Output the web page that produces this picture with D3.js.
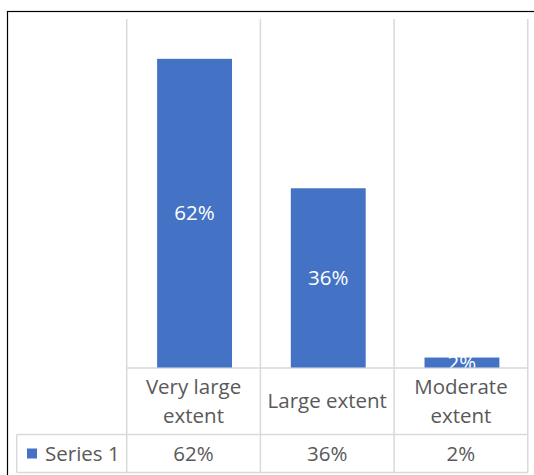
<!DOCTYPE html>
<html>
<head>
<meta charset="utf-8">
<script src="https://cdn.jsdelivr.net/npm/d3@7"></script>
<style>
  html, body { margin: 0; padding: 0; background: #fff; }
  svg { display: block; }
  text { font-family: "Open Sans", Lato, sans-serif; }
</style>
</head>
<body>
<svg id="chart" width="534" height="475"></svg>
<script>
// Chart data
const categories = ["Very large extent", "Large extent", "Moderate extent"];
const categoryLines = [["Very large", "extent"], ["Large extent"], ["Moderate", "extent"]];
const seriesName = "Series 1";
const seriesValues = [0.62, 0.36, 0.02];
const valueLabels = ["62%", "36%", "2%"];

const svg = d3.select("#chart");

const plotLeft = 126.7, plotRight = 527.8;
const plotTop = 19, baseline = 367.5;
const rowTop = 434.5, tableBottom = 472.5, tableLeft = 16.7;

const gridColor = "#d9d9d9";
const textColor = "#595959";
const barColor = "#4472c4";
const fontSize = 20.5;

// Outer chart frame
svg.append("rect")
  .attr("x", 7.5).attr("y", 11.5)
  .attr("width", 540).attr("height", 480)
  .attr("fill", "#fff").attr("stroke", "#000").attr("stroke-width", 1.2);

// Plot-area clip so in-bar labels never spill into the table
svg.append("defs").append("clipPath").attr("id", "plot-clip")
  .append("rect")
  .attr("x", plotLeft).attr("y", plotTop)
  .attr("width", plotRight - plotLeft).attr("height", baseline - plotTop);

const x = d3.scaleBand().domain(categories).range([plotLeft, plotRight]).paddingInner(0).paddingOuter(0);
const y = d3.scaleLinear().domain([0, 0.7]).range([baseline, plotTop]);

const bw = x.bandwidth();
const barW = bw * 0.56;

// Category dividers (vertical gridlines through plot and table)
const edges = categories.map(c => x(c)).concat([plotRight]);
svg.append("g").selectAll("line").data(edges).join("line")
  .attr("x1", d => d).attr("x2", d => d)
  .attr("y1", plotTop).attr("y2", tableBottom)
  .attr("stroke", gridColor).attr("stroke-width", 1.5);

// Data table horizontal rules
svg.append("line").attr("x1", plotLeft).attr("x2", plotRight)
  .attr("y1", baseline + 0.5).attr("y2", baseline + 0.5)
  .attr("stroke", gridColor).attr("stroke-width", 1.5);
[rowTop, tableBottom].forEach(yy => {
  svg.append("line").attr("x1", tableLeft).attr("x2", plotRight)
    .attr("y1", yy).attr("y2", yy)
    .attr("stroke", gridColor).attr("stroke-width", 1.5);
});
svg.append("line").attr("x1", tableLeft).attr("x2", tableLeft)
  .attr("y1", rowTop).attr("y2", tableBottom)
  .attr("stroke", gridColor).attr("stroke-width", 1.5);

// Bars
svg.append("g").selectAll("rect").data(seriesValues).join("rect")
  .attr("x", (d, i) => x(categories[i]) + (bw - barW) / 2 + 1)
  .attr("width", barW)
  .attr("y", d => y(d))
  .attr("height", d => baseline - y(d))
  .attr("fill", barColor);

// Value labels centred inside bars
svg.append("g").attr("clip-path", "url(#plot-clip)")
  .selectAll("text").data(seriesValues).join("text")
  .attr("x", (d, i) => x(categories[i]) + bw / 2 + 1)
  .attr("y", d => (y(d) + baseline) / 2)
  .attr("dy", "0.35em")
  .attr("text-anchor", "middle")
  .attr("fill", "#fff")
  .attr("font-size", fontSize)
  .text((d, i) => valueLabels[i]);

// Category labels in the table header row
const catRowMid = (baseline + rowTop) / 2;
const lineGap = 29;
categoryLines.forEach((lines, i) => {
  const cx = x(categories[i]) + bw / 2;
  lines.forEach((ln, j) => {
    svg.append("text")
      .attr("x", cx)
      .attr("y", catRowMid + (j - (lines.length - 1) / 2) * lineGap)
      .attr("dy", "0.35em")
      .attr("text-anchor", "middle")
      .attr("fill", textColor)
      .attr("font-size", fontSize)
      .text(ln);
  });
});

// Series row: legend key + values
const valRowMid = (rowTop + tableBottom) / 2;
svg.append("rect")
  .attr("x", 27).attr("y", valRowMid - 5).attr("width", 10).attr("height", 10)
  .attr("fill", barColor);
svg.append("text")
  .attr("x", 45).attr("y", valRowMid).attr("dy", "0.35em")
  .attr("fill", textColor).attr("font-size", fontSize)
  .text(seriesName);
svg.append("g").selectAll("text").data(seriesValues).join("text")
  .attr("x", (d, i) => x(categories[i]) + bw / 2)
  .attr("y", valRowMid).attr("dy", "0.35em")
  .attr("text-anchor", "middle")
  .attr("fill", textColor).attr("font-size", fontSize)
  .text((d, i) => valueLabels[i]);
</script>
</body>
</html>
